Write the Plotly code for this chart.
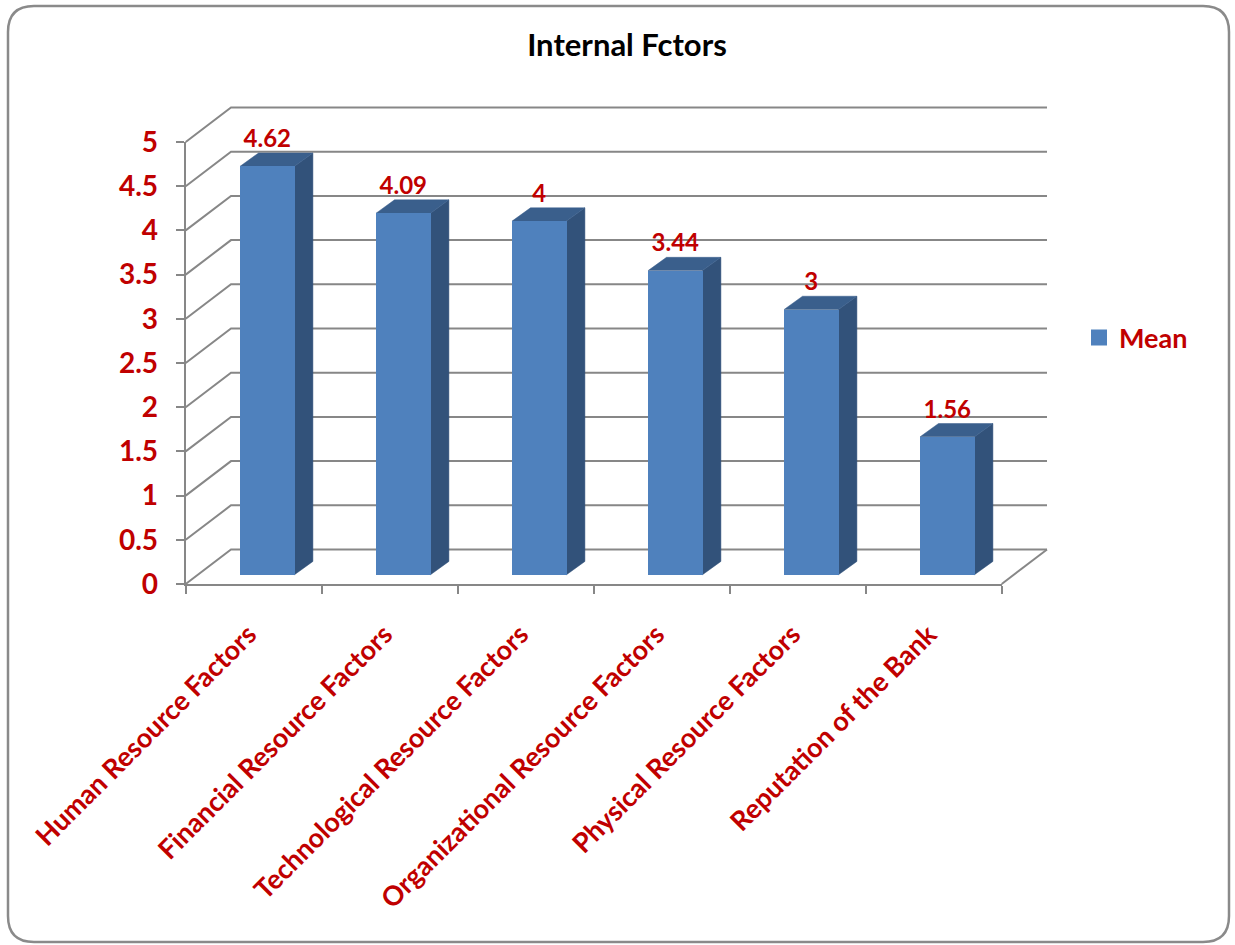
import plotly.graph_objects as go

# ---------------- data ----------------
categories = ["Human Resource Factors", "Financial Resource Factors",
              "Technological Resource Factors", "Organizational Resource Factors",
              "Physical Resource Factors", "Reputation of the Bank"]
means = [4.62, 4.09, 4.0, 3.44, 3.0, 1.56]
y_ticks = [0, 0.5, 1, 1.5, 2, 2.5, 3, 3.5, 4, 4.5, 5]
series_name = "Mean"
title_text = "Internal Fctors"

# ---------------- geometry / style ----------------
W, H = 1235, 945
X0_PX, X1_PX = 185.7, 1001.7      # front x axis extent (pixels)
Y0_PX, Y5_PX = 584.0, 142.0       # front y axis: value 0 and 5
PX_PER_CAT = (X1_PX - X0_PX) / len(categories)
PX_PER_UNIT = (Y0_PX - Y5_PX) / 5.0

def xv(px):
    return -0.5 + (px - X0_PX) / PX_PER_CAT

def yv(py):
    return (Y0_PX - py) / PX_PER_UNIT

# back-wall offset (3D depth), in data units
DX = 45.3 / PX_PER_CAT
DY = 34.5 / PX_PER_UNIT
# bar geometry
BAR_W = 0.40
BAR_OFF = -0.10
BASE = 0.105
BDX = 18.4 / PX_PER_CAT
BDY = 13.3 / PX_PER_UNIT

RED = "#C00000"
GRID = "#878787"
FRONT = "#4F81BD"
SIDE = "#32527A"
TOP = "#3A5F8C"
FONT = "Lato"

n = len(categories)
xl = -0.5
xr = n - 0.5

fig = go.Figure()

# back wall gridlines + left wall diagonals (subplot xy, drawn first)
gx, gy = [], []
for v in y_ticks:
    gx += [xl, xl + DX, xr + DX, None]
    gy += [v, v + DY, v + DY, None]
gx += [xr, xr + DX, None]
gy += [0, DY, None]
fig.add_trace(go.Scatter(x=gx, y=gy, mode="lines", line=dict(color=GRID, width=2),
                         hoverinfo="skip", showlegend=False, xaxis="x", yaxis="y"))

# side and top faces
sx, sy, tx, ty = [], [], [], []
for i, v in enumerate(means):
    r = i + BAR_OFF + BAR_W
    l = i + BAR_OFF
    sx += [r, r + BDX, r + BDX, r, r, None]
    sy += [BASE, BASE + BDY, v + BASE + BDY, v + BASE, BASE, None]
    tx += [l, r, r + BDX, l + BDX, l, None]
    ty += [v + BASE, v + BASE, v + BASE + BDY, v + BASE + BDY, v + BASE, None]
fig.add_trace(go.Scatter(x=sx, y=sy, mode="lines", fill="toself", fillcolor=SIDE,
                         line=dict(color=SIDE, width=0.5), hoverinfo="skip",
                         showlegend=False, xaxis="x", yaxis="y"))
fig.add_trace(go.Scatter(x=tx, y=ty, mode="lines", fill="toself", fillcolor=TOP,
                         line=dict(color=TOP, width=0.5), hoverinfo="skip",
                         showlegend=False, xaxis="x", yaxis="y"))

# data labels
fig.add_trace(go.Scatter(
    x=[i + BAR_OFF + BAR_W / 2 for i in range(n)],
    y=[v + BASE + BDY for v in means],
    mode="text", text=[f"{v:g}" for v in means], textposition="top center",
    textfont=dict(family=FONT, size=24, color=RED, weight="bold"),
    hoverinfo="skip", showlegend=False, xaxis="x", yaxis="y", cliponaxis=False))

# front faces (subplot x2y2 with the category axis)
fig.add_trace(go.Bar(x=categories, y=means, base=BASE, width=BAR_W, offset=BAR_OFF,
                     marker=dict(color=FRONT, line=dict(width=0)),
                     name=series_name, showlegend=False, xaxis="x2", yaxis="y2"))

# legend entry
fig.add_trace(go.Scatter(x=[None], y=[None], mode="markers", name=series_name,
                         marker=dict(symbol="square", size=16, color=FRONT),
                         xaxis="x2", yaxis="y2"))

# big background subplot (for 3D decorations)
BX0, BX1 = 150, 1100
BY0, BY1 = 60, 640
fig.update_layout(
    xaxis=dict(domain=[BX0 / W, BX1 / W], range=[xv(BX0), xv(BX1)], visible=False,
               anchor="y"),
    yaxis=dict(domain=[1 - BY1 / H, 1 - BY0 / H], range=[yv(BY1), yv(BY0)], visible=False,
               anchor="x"),
    xaxis2=dict(domain=[X0_PX / W, X1_PX / W], type="category",
                categoryorder="array", categoryarray=categories,
                range=[-0.5, n - 0.5], anchor="y2", showgrid=False, zeroline=False,
                showline=True, linecolor=GRID, linewidth=2,
                ticks="outside", tickson="boundaries", ticklen=8, tickwidth=2,
                tickcolor=GRID, tickangle=-45, automargin=False,
                ticklabelstandoff=22, ticklabelshift=-5,
                tickfont=dict(family=FONT, size=27, color=RED, weight="bold")),
    yaxis2=dict(domain=[1 - Y0_PX / H, 1 - Y5_PX / H], range=[0, 5], anchor="x2",
                tickvals=y_ticks, showgrid=False, zeroline=False,
                showline=True, linecolor=GRID, linewidth=2,
                ticks="outside", ticklen=8, tickwidth=2, tickcolor=GRID,
                ticklabelstandoff=12, automargin=False,
                tickfont=dict(family=FONT, size=28, color=RED, weight="bold")),
    width=W, height=H,
    margin=dict(l=0, r=0, t=0, b=0),
    paper_bgcolor="white", plot_bgcolor="rgba(0,0,0,0)",
    title=dict(text=title_text, x=627 / W, y=1 - 45 / H, xanchor="center",
               yanchor="middle", xref="paper", yref="paper",
               font=dict(family=FONT, size=31, color="black", weight="bold")),
    legend=dict(x=1079 / W, y=1 - 338 / H, xanchor="left", yanchor="middle",
                font=dict(family=FONT, size=27, color=RED, weight="bold"),
                bgcolor="rgba(0,0,0,0)", itemwidth=30),
    bargap=0,
)

# rounded chart border
L, T, R, B, RAD = 8, 6, 1229, 942, 26
def px(xp):
    return xp / W
def py(yp):
    return 1 - yp / H
path = (f"M{px(L + RAD)},{py(T)} L{px(R - RAD)},{py(T)} Q{px(R)},{py(T)} {px(R)},{py(T + RAD)} "
        f"L{px(R)},{py(B - RAD)} Q{px(R)},{py(B)} {px(R - RAD)},{py(B)} "
        f"L{px(L + RAD)},{py(B)} Q{px(L)},{py(B)} {px(L)},{py(B - RAD)} "
        f"L{px(L)},{py(T + RAD)} Q{px(L)},{py(T)} {px(L + RAD)},{py(T)} Z")
fig.add_shape(type="path", path=path, xref="paper", yref="paper",
              line=dict(color="#8A8A8A", width=2.5), layer="above")

fig.write_html("out.html")
